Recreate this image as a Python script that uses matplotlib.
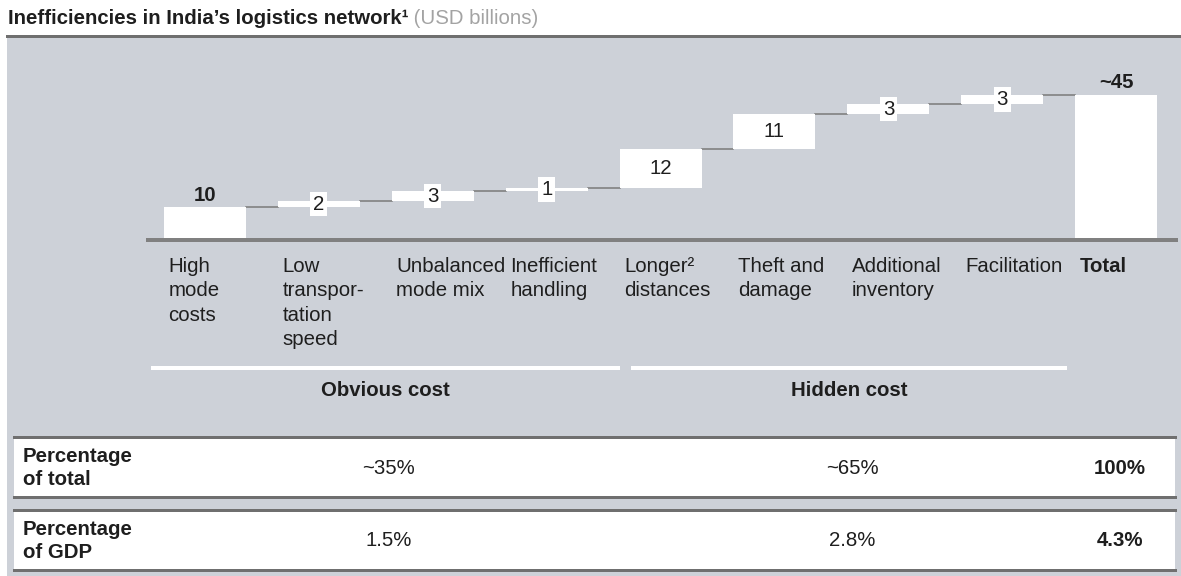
import numpy as np
import matplotlib
matplotlib.use("Agg")
import matplotlib.pyplot as plt
from matplotlib import transforms
from matplotlib.patches import Rectangle
from matplotlib.lines import Line2D

plt.rcParams["font.family"] = ["Liberation Sans", "DejaVu Sans"]

# Waterfall data (USD billions)
categories = [
    "High\nmode\ncosts",
    "Low\ntranspor-\ntation\nspeed",
    "Unbalanced\nmode mix",
    "Inefficient\nhandling",
    "Longer\u00b2\ndistances",
    "Theft and\ndamage",
    "Additional\ninventory",
    "Facilitation",
    "Total",
]
steps = [10, 2, 3, 1, 12, 11, 3, 3]
total = 45
total_label = "~45"

# Cost groups and the summary table underneath
groups = ["Obvious cost", "Hidden cost"]
group_spans = [(-0.47, 3.64), (3.74, 7.57)]
row_names = ["Percentage\nof total", "Percentage\nof GDP"]
share_of_total = ["~35%", "~65%", "100%"]
share_of_gdp = ["1.5%", "2.8%", "4.3%"]

W, H = 1181, 576
FS = 14.7
PANEL = "#CDD1D8"
LINE = "#6f6f6f"
TXT = "#1e1e1e"


def fx(px):
    return px / W


def fy(py):
    return 1 - py / H


def pt(px):
    return px * 72 / 100


fig = plt.figure(figsize=(W / 100, H / 100), dpi=100)

# grey panel + top rule
fig.patches.append(Rectangle((fx(7), 0), 1 - fx(7), fy(37), transform=fig.transFigure,
                             facecolor=PANEL, edgecolor="none", zorder=-2))
fig.lines.append(Line2D([fx(7), 1], [fy(36), fy(36)], transform=fig.transFigure,
                        color=LINE, lw=pt(3)))

# waterfall
y_scale = 3.22
ax = fig.add_axes([fx(148), fy(239.5), fx(1176) - fx(148), 50 * y_scale / H])
ax.set_xlim(-0.5, 8.525)
ax.set_ylim(0, 50)
ax.axis("off")

# title
title = fig.text(fx(8), fy(24), "Inefficiencies in India\u2019s logistics network\u00b9",
                 fontsize=FS, fontweight="bold", color=TXT, va="baseline")
ax.annotate(" (USD billions)", xy=(1, 0), xycoords=title, va="bottom",
            fontsize=FS, color="#a3a3a3", annotation_clip=False)

x = np.arange(len(categories))
levels = np.cumsum(steps)
bottoms = list(np.concatenate([[0], levels[:-1]])) + [0]
heights = steps + [total]
bar_w = 0.72
ax.bar(x, heights, bottom=bottoms, width=bar_w, color="white", linewidth=0, zorder=2)

tops = list(levels) + [total]
for i in range(len(x) - 1):
    ax.plot([i + bar_w / 2, i + 1 - bar_w / 2], [tops[i], tops[i]],
            color="#7a7a7a", lw=1.1, zorder=1)

ax.axhline(0, color="#808080", lw=pt(4), zorder=3, clip_on=False)

for i, (b, h) in enumerate(zip(bottoms, heights)):
    if i == 0 or i == len(x) - 1:
        label = total_label if i == len(x) - 1 else str(h)
        ax.annotate(label, xy=(i, b + h), xytext=(0, 2), textcoords="offset points",
                    ha="center", va="bottom", fontsize=FS, fontweight="bold", color=TXT)
    else:
        ax.text(i, b + h / 2, str(h), ha="center", va="center", fontsize=FS, color=TXT,
                zorder=4, bbox=dict(boxstyle="square,pad=0.14", fc="white", ec="none"))

# category labels under the axis
blend = transforms.blended_transform_factory(ax.transData, fig.transFigure)
for i, name in enumerate(categories):
    ax.text(i - bar_w / 2 + 0.04, fy(257), name, transform=blend, ha="left", va="top",
            fontsize=FS, color=TXT, linespacing=1.36,
            fontweight="bold" if name == "Total" else "normal")

# group brackets
for name, (a, b) in zip(groups, group_spans):
    ax.plot([a, b], [fy(368), fy(368)], transform=blend, color="white",
            lw=pt(4), clip_on=False, solid_capstyle="butt")
    ax.text((a + b) / 2, fy(390), name, transform=blend, ha="center", va="center",
            fontsize=FS, fontweight="bold", color=TXT)

# summary table
rows = [(437, 497, row_names[0], share_of_total), (510, 570, row_names[1], share_of_gdp)]
for top, bottom, name, values in rows:
    fig.patches.append(Rectangle((fx(14), fy(bottom)), fx(1175) - fx(14), fy(top) - fy(bottom),
                                 transform=fig.transFigure, facecolor="white",
                                 edgecolor="none", zorder=-1))
    for yy in (top, bottom):
        fig.lines.append(Line2D([fx(14), fx(1175)], [fy(yy), fy(yy)],
                                transform=fig.transFigure, color=LINE, lw=pt(3)))
    yc = fy((top + bottom) / 2 + 1)
    fig.text(fx(23), yc, name, ha="left", va="center", fontsize=FS,
             fontweight="bold", color=TXT, linespacing=1.22)
    centers = [(a + b) / 2 for a, b in group_spans] + [len(categories) - 1]
    for j, (c, v) in enumerate(zip(centers, values)):
        ax.text(c + 0.03, yc, v, transform=blend, ha="center", va="center", fontsize=FS,
                color=TXT, fontweight="bold" if j == 2 else "normal")

fig.savefig("out.png", dpi=100)
